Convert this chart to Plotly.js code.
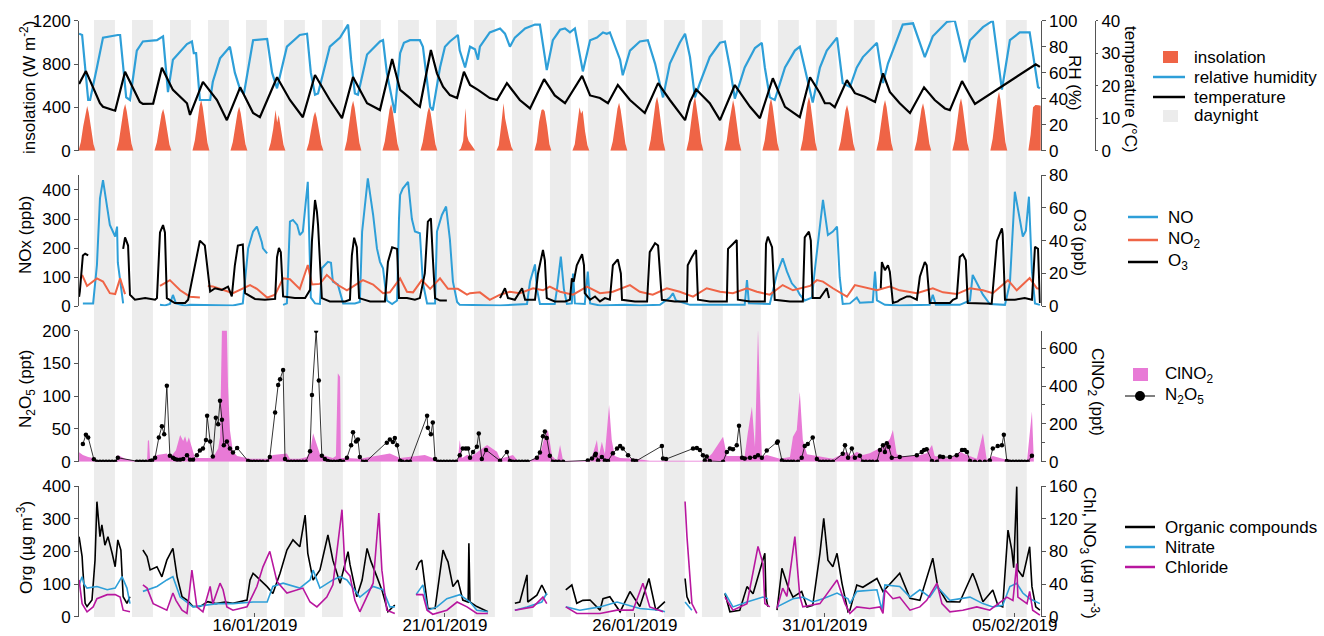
<!DOCTYPE html>
<html><head><meta charset="utf-8">
<script src="https://cdn.plot.ly/plotly-3.0.1.min.js"></script>
<style>html,body{margin:0;padding:0;background:#fff}#c{width:1324px;height:636px}</style>
</head><body><div id="c"></div>
<script>
// Times are decimal day-of-January 2019 (e.g. 32.5 = 1 Feb 12:00)
const dateTicks = ['2019-01-16','2019-01-21','2019-01-26','2019-01-31','2019-02-05'];
const xRange = ['2019-01-11 08:50','2019-02-05 16:20'];
const nightStartHour = 18.33, nightEndHour = 7.53, firstNight = 11, lastNight = 35;

const insolHours = [8.5,10,11.5,13,14,15,16.5,18,19.25];
const insolFirstDay = 11;
const insolDaily = [
[0,80,225,360,412,350,205,60,0],[0,85,235,380,431,365,215,65,0],[0,75,210,340,385,325,190,55,0],
[0,95,255,410,468,400,235,70,0],[0,80,225,355,406,345,200,60,0],[0,75,200,376,260,330,190,55,0],
[0,70,200,315,360,305,180,55,0],[0,90,255,405,462,395,230,70,0],[0,85,235,380,431,365,215,65,0],
[0,80,225,355,406,345,200,60,0],[0,20,90,391,140,90,60,35,0],[0,50,230,437,300,220,120,35,0],
[0,80,270,375,382,365,230,60,0],[0,60,240,400,340,370,180,50,0],[0,85,240,390,443,375,220,65,0],
[0,100,275,440,499,425,250,75,0],[0,95,265,440,499,410,240,70,0],[0,95,255,410,468,400,235,70,0],
[0,95,265,425,484,410,240,72,0],[0,100,275,440,499,425,250,75,0],[0,85,230,370,422,360,210,63,0],
[0,95,255,410,468,400,235,70,0],[0,85,240,385,437,370,220,65,0],[0,95,265,425,484,410,240,72,0],
[0,110,300,480,545,465,270,80,0],[0,150,400,422,422,420,415,0,0]];

const rh = [[11.37,90],[11.45,89],[11.61,39],[11.66,39],[11.84,64],[12.00,87],[12.39,89],[12.45,89],[12.61,41],[12.71,39],[12.89,77],[13.05,84],[13.42,85],[13.58,88],[13.71,45],[13.84,70],[14.21,82],[14.34,84],[14.39,75],[14.45,75],[14.55,39],[14.82,39],[14.89,53],[15.08,71],[15.34,80],[15.47,60],[15.61,47],[15.71,44],[15.95,85],[16.32,86],[16.45,60],[16.58,48],[16.84,80],[17.18,89],[17.37,90],[17.47,60],[17.58,43],[17.66,44],[17.97,80],[18.24,87],[18.45,97],[18.53,70],[18.63,44],[18.71,43],[18.95,74],[19.29,84],[19.37,85],[19.47,60],[19.68,29],[19.82,75],[19.92,83],[20.08,85],[20.34,85],[20.42,80],[20.61,34],[20.68,31],[20.87,64],[21.00,80],[21.13,84],[21.26,87],[21.34,89],[21.39,77],[21.53,64],[21.66,80],[21.79,78],[21.87,70],[21.92,80],[22.18,91],[22.45,94],[22.58,90],[22.71,80],[22.84,87],[23.11,94],[23.37,97],[23.50,97],[23.63,72],[23.68,62],[23.84,85],[24.03,93],[24.16,94],[24.29,91],[24.42,94],[24.55,75],[24.63,61],[24.82,85],[25.00,87],[25.16,91],[25.26,90],[25.34,91],[25.61,70],[25.68,58],[25.87,77],[26.13,84],[26.34,85],[26.53,67],[26.66,52],[26.74,41],[26.92,67],[27.18,83],[27.32,90],[27.45,72],[27.58,41],[27.71,52],[27.97,72],[28.24,83],[28.37,84],[28.50,64],[28.63,40],[28.89,64],[29.16,79],[29.34,83],[29.42,64],[29.55,41],[29.68,39],[29.95,64],[30.21,77],[30.34,80],[30.68,37],[30.87,64],[31.05,77],[31.32,87],[31.47,52],[31.66,49],[31.84,64],[32.00,72],[32.37,83],[32.53,52],[32.66,67],[32.89,85],[33.05,97],[33.32,98],[33.63,72],[33.84,88],[34.21,99],[34.42,100],[34.68,68],[34.82,85],[35.16,95],[35.42,100],[35.66,47],[35.87,85],[36.13,91],[36.39,91],[36.61,49],[36.66,48]];

const temperature = [[11.37,20.5],[11.55,24.5],[11.92,14.6],[12.00,13.5],[12.26,12.5],[12.32,12.3],[12.58,24.3],[12.97,15],[13.05,14.4],[13.32,14.5],[13.55,25.5],[13.84,18.7],[14.21,14.6],[14.29,11],[14.63,21.2],[15.00,15.6],[15.26,9.4],[15.61,19.5],[15.95,11.6],[16.13,10.3],[16.58,22.6],[16.92,15.6],[17.26,10.3],[17.58,23.3],[17.97,15.6],[18.29,10],[18.58,22.7],[18.95,14.6],[19.29,12.5],[19.61,28.2],[19.82,18.7],[19.95,17.5],[20.08,16.2],[20.21,14.6],[20.34,13.5],[20.63,31],[20.79,23.8],[20.95,19.7],[21.13,17.1],[21.32,16.2],[21.50,24.3],[21.66,20.2],[21.87,18.7],[22.18,16.2],[22.37,15.6],[22.63,20.8],[22.97,15.6],[23.24,13],[23.61,22],[23.89,17],[24.16,14.6],[24.61,23],[24.82,17],[25.08,16.2],[25.29,14.6],[25.55,20.2],[25.87,15.6],[26.26,11.6],[26.61,20.8],[26.92,15.6],[27.32,9.4],[27.45,15],[27.61,18.9],[27.97,14.6],[28.24,9.4],[28.63,20.2],[29.03,13.5],[29.29,10],[29.63,22.3],[29.95,13.5],[30.29,10.7],[30.34,10.3],[30.61,22.6],[30.87,17.7],[31.00,14.6],[31.13,14.6],[31.26,13.4],[31.58,21.7],[31.79,17.7],[32.05,16.6],[32.32,15],[32.53,23.8],[32.71,18.1],[32.97,14.6],[33.24,11.6],[33.61,19.5],[33.89,15.6],[34.16,13],[34.29,12.5],[34.61,21.4],[34.82,17],[34.95,14.4],[36.55,26.6],[36.66,25.8]];

const no = [[11.47,10],[11.74,10],[11.84,142],[11.92,371],[12.00,434],[12.11,337],[12.18,280],[12.32,240],[12.37,274],[12.39,150],[12.53,10],[12.55,null],[13.50,5],[13.63,3],[13.76,8],[13.84,39],[13.92,10],[14.16,2],[14.29,5],[14.55,5],[14.82,3],[15.08,5],[15.42,3],[15.68,10],[15.74,100],[15.82,199],[15.95,257],[16.05,274],[16.18,220],[16.21,199],[16.32,182],[16.35,null],[16.74,5],[16.84,10],[16.92,291],[17.00,297],[17.11,280],[17.18,245],[17.26,257],[17.34,371],[17.39,428],[17.47,30],[17.58,10],[17.71,8],[17.76,131],[17.92,153],[18.00,150],[18.05,85],[18.18,75],[18.32,10],[18.63,10],[18.76,15],[18.82,257],[18.97,440],[19.11,314],[19.21,199],[19.29,153],[19.37,131],[19.47,20],[19.61,8],[19.74,20],[19.79,300],[19.82,383],[19.89,405],[20.03,428],[20.13,300],[20.21,257],[20.34,251],[20.42,80],[20.53,10],[20.74,10],[20.79,257],[20.92,314],[21.03,343],[21.13,230],[21.21,85],[21.32,15],[21.39,5],[21.92,3],[22.45,3],[23.16,8],[23.24,85],[23.37,144],[23.42,60],[23.50,8],[23.89,8],[23.95,60],[24.05,171],[24.13,60],[24.21,8],[24.34,10],[24.37,113],[24.42,10],[24.68,8],[24.76,119],[24.82,10],[25.08,3],[25.74,5],[26.13,3],[26.66,5],[26.92,30],[27.00,45],[27.08,20],[27.45,5],[28.24,5],[28.89,5],[28.95,90],[29.00,10],[29.55,8],[29.74,113],[29.89,165],[30.00,120],[30.13,79],[30.26,60],[30.34,40],[30.47,20],[30.66,30],[30.74,130],[30.95,366],[31.08,245],[31.21,257],[31.32,274],[31.39,100],[31.47,8],[31.66,10],[31.74,20],[31.84,30],[31.92,12],[32.26,15],[32.32,119],[32.37,20],[32.58,5],[32.97,3],[33.76,5],[33.84,40],[33.92,5],[34.55,5],[34.82,20],[34.89,108],[35.00,80],[35.16,40],[35.34,8],[35.74,5],[35.87,80],[36.00,394],[36.13,300],[36.21,240],[36.29,260],[36.37,377],[36.45,120],[36.53,10],[36.66,5]];

const no2 = [[11.45,108],[11.58,70],[11.84,96],[12.00,85],[12.18,45],[12.32,42],[12.45,96],[12.58,42],[12.6,null],[13.50,70],[13.76,90],[14.03,55],[14.29,33],[14.55,30],[14.6,null],[14.76,70],[14.89,68],[15.42,45],[15.87,73],[16.05,60],[16.32,30],[16.53,40],[16.74,96],[16.92,93],[17.18,60],[17.39,142],[17.50,75],[17.71,77],[17.89,108],[18.16,75],[18.42,55],[18.84,90],[19.11,75],[19.37,45],[19.55,48],[19.82,96],[20.00,50],[20.16,48],[20.39,90],[20.61,60],[20.87,96],[21.08,60],[21.34,60],[21.58,40],[21.66,45],[21.92,48],[22.18,22],[22.45,40],[22.71,50],[22.97,45],[23.32,62],[23.58,55],[23.76,68],[24.03,50],[24.37,40],[24.74,68],[25.08,45],[25.42,50],[25.87,73],[26.13,50],[26.47,40],[26.84,62],[27.18,50],[27.53,33],[27.89,62],[28.24,50],[28.58,45],[28.95,62],[29.21,50],[29.55,40],[29.89,73],[30.16,55],[30.61,70],[30.79,90],[30.95,85],[31.21,62],[31.58,33],[31.79,73],[32.11,62],[32.37,55],[32.71,68],[32.97,55],[33.42,45],[33.84,62],[34.11,48],[34.47,42],[34.82,62],[35.16,55],[35.42,45],[35.82,90],[36.05,55],[36.39,97],[36.58,62],[36.66,60]];

const o3 = [[11.37,5.8],[11.39,9],[11.47,31],[11.53,32],[11.61,31],[11.63,null],[12.53,35],[12.58,42],[12.66,37],[12.71,7],[12.84,4],[13.11,5],[13.37,4],[13.42,5],[13.50,45],[13.58,49.5],[13.63,45],[13.68,5],[13.89,2],[14.16,2],[14.24,4],[14.47,31],[14.55,40],[14.68,37],[14.82,9],[14.95,11],[15.13,10],[15.29,12],[15.39,6],[15.47,25],[15.55,37],[15.68,37.7],[15.74,8],[16.00,4.5],[16.26,4],[16.53,4.5],[16.58,30],[16.63,35.5],[16.68,33],[16.74,6],[17.05,5],[17.32,5],[17.45,10],[17.50,40],[17.58,64.8],[17.63,57.7],[17.66,49.5],[17.76,5],[17.97,3],[18.37,3],[18.50,4],[18.55,31],[18.61,41.8],[18.68,36],[18.74,5],[19.03,3],[19.42,3],[19.50,27],[19.61,36],[19.74,35],[19.79,5],[20.00,5],[20.21,4],[20.34,5],[20.47,20],[20.55,51.6],[20.63,53.6],[20.68,30],[20.74,5],[20.87,3.5],[21.05,3.5],[21.1,null],[22.45,5],[22.58,11],[22.66,5],[22.84,4],[23.03,11],[23.11,4],[23.37,4],[23.45,20],[23.58,34.3],[23.63,28],[23.68,5],[23.89,3],[24.16,3],[24.29,4],[24.34,17],[24.39,15],[24.47,25],[24.61,31.7],[24.66,25],[24.68,8],[24.82,4],[24.95,6],[25.08,3],[25.21,5],[25.34,4],[25.42,25],[25.55,28.6],[25.63,20],[25.66,4],[26.00,3],[26.32,3],[26.39,33],[26.53,38.4],[26.61,37],[26.71,4],[27.05,3],[27.37,3],[27.39,25],[27.50,30],[27.61,34.3],[27.66,4],[27.97,3],[28.42,3],[28.45,35],[28.58,38],[28.68,40.4],[28.71,4],[29.03,3],[29.42,3],[29.45,38],[29.50,42.4],[29.61,36],[29.68,4],[30.08,3],[30.42,3],[30.47,42],[30.58,45.5],[30.63,40],[30.68,5],[30.87,5],[31.05,11],[31.11,5],[31.2,null],[32.47,11],[32.50,27],[32.58,22],[32.66,25],[32.71,21],[32.79,2],[32.92,3],[32.97,4],[33.16,6],[33.24,6],[33.42,4],[33.50,18],[33.63,27],[33.68,25],[33.76,2],[34.29,2],[34.37,4],[34.47,5],[34.55,30],[34.63,31.7],[34.71,28],[34.76,2],[35.39,1.5],[35.53,40],[35.66,47.5],[35.68,44],[35.74,4],[36.00,4],[36.26,5],[36.45,4],[36.53,36.3],[36.61,35],[36.66,2]];

const n2o5 = [[11.47,27],[11.55,41],[11.61,37],[11.76,3.6],[11.84,0],[11.92,0],[12.00,0],[12.08,0],[12.16,0],[12.24,0],[12.32,0],[12.39,6],[12.89,0],[12.97,0],[13.05,0],[13.13,0],[13.24,1],[13.29,2],[13.37,6],[13.47,37],[13.55,54],[13.61,42],[13.68,116],[13.76,9],[13.84,6],[13.89,4],[13.95,3],[14.03,3],[14.11,4],[14.21,10],[14.29,3],[14.37,3],[14.47,10],[14.55,17],[14.63,20],[14.71,33],[14.74,70],[14.82,31],[14.89,8],[14.97,67],[15.03,57],[15.08,93],[15.13,64],[15.18,25],[15.26,31],[15.34,20],[15.42,14],[15.53,21],[15.82,1],[15.89,0],[15.97,0],[16.05,0],[16.13,0],[16.21,0],[16.32,0],[16.39,7],[16.53,75],[16.61,117],[16.66,126],[16.74,140],[16.79,4],[16.87,0],[16.95,0],[17.03,0],[17.11,0],[17.18,0],[17.26,0],[17.34,0],[17.45,16],[17.50,102],[17.61,200],[17.68,124],[17.76,9],[17.84,4],[17.92,1],[18.00,0],[18.08,0],[18.16,0],[18.24,1],[18.32,0],[18.42,6],[18.53,25],[18.58,45],[18.66,31],[18.71,34],[18.76,7],[18.84,0],[18.92,0],[19.47,29],[19.55,34],[19.63,30],[19.68,36],[19.74,25],[19.82,1.5],[19.89,0],[20.00,0],[20.08,0],[20.53,70],[20.55,52],[20.63,42],[20.68,60],[20.74,4],[20.82,0],[20.89,0],[20.97,0],[21.05,0],[21.13,0],[21.21,0],[21.29,0],[21.39,10],[21.47,20],[21.55,20],[21.61,20],[21.66,6],[21.74,15],[21.84,23],[21.89,43],[21.97,4],[22.08,18],[22.45,1.5],[22.63,15],[22.71,1],[22.79,0],[22.87,0],[22.95,0],[23.03,0],[23.11,0],[23.18,0],[23.42,6],[23.50,14],[23.58,39],[23.63,46],[23.68,36],[23.76,9],[23.84,0],[23.92,0],[24.00,0],[24.11,0],[24.76,2],[24.87,5],[24.95,10],[24.97,12],[25.03,2],[25.13,7],[25.21,2],[25.29,1],[25.42,13],[25.53,20],[25.61,24],[25.68,20],[25.82,10],[25.95,2],[26.03,1],[26.71,24],[26.74,5],[26.82,4],[27.53,20],[27.63,21],[27.71,18],[27.79,10],[27.84,2],[27.89,8],[27.97,1],[28.32,0],[28.42,15],[28.50,20],[28.58,19],[28.68,25],[28.74,55],[28.82,6],[28.89,5],[29.03,6],[29.16,7],[29.24,10],[29.34,6],[29.47,17],[29.74,29],[29.76,31],[29.87,2],[29.95,0],[30.03,0],[30.11,0],[30.18,0],[30.29,0],[30.39,6],[30.47,24],[30.55,27],[30.68,37],[30.79,4],[30.87,0],[30.95,0],[31.03,0],[31.11,0],[31.21,0],[31.47,12],[31.53,25],[31.61,6],[31.71,20],[31.79,6],[31.92,9],[32.00,0],[32.08,0],[32.18,0],[32.26,0],[32.37,0],[32.45,18],[32.53,25],[32.58,15],[32.63,28],[32.68,23],[32.76,6],[32.97,7],[33.42,10],[33.55,15],[33.61,18],[33.68,19],[33.82,1],[33.95,0],[34.03,8],[34.11,7],[34.29,7],[34.47,10],[34.61,18],[34.68,18],[34.74,15],[34.82,1],[34.95,0],[35.08,0],[35.21,0],[35.34,2],[35.42,20],[35.55,24],[35.66,25],[35.71,41],[35.79,1],[35.87,0],[35.95,0],[36.03,0],[36.11,0],[36.18,0],[36.26,0],[36.34,0],[36.45,9]];

const clno2 = [[11.37,50],[11.47,35],[11.61,25],[11.74,20],[11.84,5],[12.37,5],[12.39,35],[12.53,20],[12.58,15],[12.84,5],[13.16,5],[13.18,110],[13.21,115],[13.24,10],[13.32,10],[13.42,35],[13.68,44],[13.76,20],[13.92,60],[14.03,141],[14.11,110],[14.16,135],[14.21,100],[14.26,130],[14.34,80],[14.42,20],[14.63,20],[14.89,20],[15.03,70],[15.08,130],[15.13,700],[15.26,700],[15.29,400],[15.34,168],[15.42,53],[15.53,30],[15.87,15],[16.32,15],[16.47,35],[16.66,40],[16.84,44],[16.92,15],[17.18,15],[17.37,25],[17.45,53],[17.53,150],[17.63,88],[17.71,40],[18.05,20],[18.13,30],[18.18,468],[18.24,450],[18.26,20],[18.42,20],[18.76,15],[19.29,35],[19.55,44],[19.82,20],[20.16,27],[20.47,35],[20.68,20],[20.79,5],[21.34,10],[21.39,115],[21.45,20],[21.58,35],[21.71,30],[21.92,62],[22.11,88],[22.37,53],[22.45,15],[22.79,35],[22.92,5],[23.16,0],[23.24,5],[23.50,35],[23.61,124],[23.71,168],[23.82,30],[23.95,5],[24.03,88],[24.11,5],[24.55,3],[24.82,5],[24.89,40],[25.00,115],[25.05,30],[25.13,106],[25.21,40],[25.32,300],[25.39,115],[25.47,30],[25.61,20],[26.00,15],[26.39,5],[27.84,5],[28.03,44],[28.32,132],[28.42,30],[28.89,30],[28.97,150],[29.08,291],[29.16,79],[29.24,700],[29.34,27],[29.47,35],[29.82,15],[30.08,25],[30.16,132],[30.26,168],[30.34,370],[30.42,115],[30.53,40],[30.79,30],[31.21,15],[31.58,53],[31.68,30],[31.84,53],[32.00,35],[32.18,45],[32.37,62],[32.53,80],[32.71,120],[32.79,168],[32.89,40],[33.05,30],[33.42,30],[33.68,45],[33.82,88],[33.89,30],[34.03,25],[34.29,15],[34.55,53],[34.74,35],[35.00,15],[35.16,150],[35.26,10],[35.42,30],[35.68,15],[36.05,5],[36.32,5],[36.45,265],[36.50,5]];

const org = [[11.37,245],[11.45,184],[11.47,143],[11.53,41],[11.58,31],[11.71,51],[11.79,173],[11.84,352],[11.92,245],[11.97,281],[12.05,219],[12.13,245],[12.24,194],[12.32,153],[12.39,235],[12.47,204],[12.53,61],[12.63,41],[12.71,61],[12.75,null],[13.05,204],[13.16,184],[13.24,143],[13.42,153],[13.55,122],[13.68,173],[13.84,209],[13.95,122],[14.08,61],[14.21,51],[14.37,31],[14.55,31],[14.76,46],[14.97,40],[15.21,45],[15.42,41],[15.79,51],[15.87,112],[15.95,133],[16.13,112],[16.32,92],[16.47,71],[16.66,133],[16.84,204],[17.00,235],[17.18,214],[17.32,311],[17.39,194],[17.53,112],[17.71,143],[17.92,250],[18.05,173],[18.24,102],[18.45,199],[18.50,160],[18.68,61],[18.82,112],[18.95,209],[19.05,170],[19.21,122],[19.34,82],[19.50,15],[19.68,36],[19.75,null],[20.24,143],[20.32,165],[20.39,173],[20.47,92],[20.55,26],[20.74,25],[20.87,143],[20.95,204],[21.03,180],[21.08,168],[21.21,92],[21.34,112],[21.47,51],[21.61,45],[21.63,225],[21.66,45],[21.84,31],[22.05,20],[22.13,15],[22.2,null],[22.84,41],[22.97,45],[23.16,128],[23.18,45],[23.42,66],[23.55,97],[23.68,66],[23.7,null],[24.18,82],[24.34,97],[24.47,41],[24.63,50],[24.82,51],[25.08,20],[25.16,55],[25.34,61],[25.61,15],[25.87,77],[26.13,31],[26.37,117],[26.55,20],[26.79,46],[26.85,null],[27.32,117],[27.37,61],[27.45,40],[27.5,null],[28.37,71],[28.50,15],[28.76,20],[28.95,92],[29.11,70],[29.42,194],[29.45,60],[29.50,31],[29.55,null],[29.74,20],[29.87,148],[30.03,92],[30.16,60],[30.39,77],[30.53,30],[30.68,35],[30.87,194],[30.97,301],[31.08,173],[31.21,153],[31.32,194],[31.45,102],[31.61,15],[31.66,20],[31.84,97],[32.00,90],[32.37,117],[32.53,77],[32.79,112],[32.97,133],[33.24,56],[33.50,50],[33.84,179],[33.97,92],[34.21,46],[34.55,45],[34.89,133],[34.97,110],[35.16,46],[35.42,82],[35.55,36],[35.68,30],[35.82,265],[35.92,204],[35.97,150],[36.05,398],[36.08,143],[36.21,122],[36.39,214],[36.45,92],[36.55,30],[36.66,20]];

const nitrate = [[11.37,39],[11.45,49],[11.50,40],[11.58,35],[11.84,37],[12.11,33],[12.32,35],[12.50,49],[12.63,35],[12.71,16],[12.75,null],[13.05,31],[13.42,37],[13.68,45],[13.84,49],[14.03,24],[14.37,12],[15.00,16],[15.42,16],[15.95,18],[16.32,18],[16.47,37],[16.74,41],[17.18,35],[17.45,45],[17.53,57],[17.71,35],[18.05,45],[18.24,49],[18.42,45],[18.76,24],[19.11,37],[19.37,33],[19.55,12],[19.68,12],[19.75,null],[20.24,27],[20.42,39],[20.55,8],[20.79,12],[21.05,22],[21.39,27],[21.66,18],[21.84,8],[22.13,6],[22.2,null],[22.84,8],[23.16,12],[23.55,18],[23.68,29],[23.7,null],[24.18,12],[24.55,8],[25.08,12],[25.53,18],[26.13,10],[26.66,8],[26.79,6],[26.85,null],[27.32,18],[27.50,8],[27.55,null],[28.37,29],[28.58,12],[28.95,18],[29.37,24],[29.50,22],[29.55,null],[29.74,12],[30.16,22],[30.42,24],[30.68,18],[30.95,22],[31.32,29],[31.61,22],[31.66,16],[31.84,31],[32.37,33],[32.50,8],[32.58,39],[32.97,37],[33.24,24],[33.50,33],[33.76,24],[33.95,37],[34.29,20],[34.82,24],[35.16,16],[35.42,12],[35.68,14],[35.87,37],[36.05,41],[36.21,29],[36.39,22],[36.66,16]];

const chloride = [[11.37,45],[11.45,16],[11.58,6],[11.74,12],[11.84,22],[12.11,27],[12.32,27],[12.45,24],[12.53,8],[12.71,6],[12.75,null],[13.05,39],[13.16,35],[13.32,16],[13.50,12],[13.68,8],[13.84,29],[13.92,20],[14.08,8],[14.21,4],[14.34,57],[14.47,12],[14.63,6],[14.82,37],[14.89,16],[15.08,41],[15.16,33],[15.26,12],[15.42,8],[15.79,12],[16.05,37],[16.21,61],[16.39,80],[16.58,43],[16.84,29],[17.11,33],[17.26,35],[17.45,18],[17.63,12],[17.89,24],[18.05,39],[18.29,131],[18.37,57],[18.50,50],[18.63,20],[18.76,6],[18.95,24],[19.11,41],[19.26,127],[19.34,57],[19.47,8],[19.68,4],[19.75,null],[20.24,27],[20.42,27],[20.53,8],[20.68,3],[21.05,8],[21.32,18],[21.58,12],[21.84,4],[22.13,4],[22.2,null],[22.84,8],[23.32,12],[23.58,24],[23.68,16],[23.7,null],[24.18,12],[24.47,4],[25.08,4],[25.53,8],[25.95,8],[26.21,41],[26.39,12],[26.74,6],[26.85,null],[27.32,141],[27.37,98],[27.50,16],[27.63,4],[27.7,null],[28.37,24],[28.58,8],[28.95,16],[29.24,86],[29.37,65],[29.42,16],[29.55,12],[29.6,null],[29.74,10],[29.89,35],[30.00,25],[30.21,98],[30.34,25],[30.42,12],[30.87,16],[31.13,33],[31.32,45],[31.53,16],[31.66,4],[31.84,12],[32.18,10],[32.45,12],[32.53,4],[32.58,33],[32.79,22],[32.97,24],[33.24,8],[33.50,12],[33.68,20],[33.95,41],[34.08,16],[34.29,6],[34.63,8],[35.00,12],[35.34,8],[35.79,24],[35.95,20],[36.05,65],[36.08,24],[36.32,16],[36.39,31],[36.47,8],[36.66,2]];

// legend labels (drawn as real text)
const legendPanel1 = ['insolation','relative humidity','temperature','daynight'];
const legendPanel2 = ['NO','NO<sub>2</sub>','O<sub>3</sub>'];
const legendPanel3 = ['ClNO<sub>2</sub>','N<sub>2</sub>O<sub>5</sub>'];
const legendPanel4 = ['Organic compounds','Nitrate','Chloride'];

// ---------- helpers ----------
function T(d){ return new Date(Date.UTC(2019,0,1) + (d-1)*86400000).toISOString().slice(0,19).replace('T',' '); }
const X = a => a.map(p => T(p[0]));
const Y = a => a.map(p => p[1]);

const insX = [], insY = [];
insolDaily.forEach((row, i) => row.forEach((v, j) => { insX.push(T(insolFirstDay + i + insolHours[j]/24)); insY.push(v); }));

const FONT = 'Arial, "Liberation Sans", sans-serif';
const BLUE = '#2E9FD8', ORANGE = '#EF6446', PINK = '#E87AD6', PURPLE = '#B8179F', GREY = '#ECECEC';

const traces = [
 {x: insX, y: insY, xaxis:'x2', yaxis:'y', type:'scatter', mode:'lines', line:{width:0, color:ORANGE}, fill:'tozeroy', fillcolor:ORANGE, name:'insolation'},
 {x: X(rh), y: Y(rh), xaxis:'x2', yaxis:'y2', type:'scatter', mode:'lines', line:{color:BLUE, width:2.2}, name:'relative humidity'},
 {x: X(temperature), y: Y(temperature), xaxis:'x2', yaxis:'y3', type:'scatter', mode:'lines', line:{color:'#000', width:2.2}, name:'temperature'},

 {x: X(no), y: Y(no), xaxis:'x3', yaxis:'y4', type:'scatter', mode:'lines', line:{color:BLUE, width:2}, name:'NO'},
 {x: X(no2), y: Y(no2), xaxis:'x3', yaxis:'y4', type:'scatter', mode:'lines', line:{color:ORANGE, width:2}, name:'NO2'},
 {x: X(o3), y: Y(o3), xaxis:'x3', yaxis:'y5', type:'scatter', mode:'lines', line:{color:'#000', width:2}, name:'O3'},

 {x: X(clno2), y: Y(clno2), xaxis:'x4', yaxis:'y6', type:'scatter', mode:'lines', line:{width:0, color:PINK}, fill:'tozeroy', fillcolor:PINK, name:'ClNO2'},
 {x: X(n2o5), y: Y(n2o5), xaxis:'x4', yaxis:'y7', type:'scatter', mode:'lines+markers', line:{color:'#000', width:0.8}, marker:{color:'#000', size:4.5}, name:'N2O5'},

 {x: X(org), y: Y(org), xaxis:'x', yaxis:'y8', type:'scatter', mode:'lines', line:{color:'#000', width:1.6}, name:'Organic compounds'},
 {x: X(nitrate), y: Y(nitrate), xaxis:'x', yaxis:'y9', type:'scatter', mode:'lines', line:{color:BLUE, width:1.6}, name:'Nitrate'},
 {x: X(chloride), y: Y(chloride), xaxis:'x', yaxis:'y9', type:'scatter', mode:'lines', line:{color:PURPLE, width:1.6}, name:'Chloride'}
];

const W = 1324, H = 636;
const px = v => v / W, py = v => 1 - v / H;
const XD = [px(79), px(1040.7)];
const D1 = [py(150.7), py(20.7)], D2 = [py(306.3), py(175)], D3 = [py(461.7), py(330.7)], D4 = [py(616.7), py(486)];

const yBase = {showgrid:false, zeroline:false, showline:true, linecolor:'#555', linewidth:1, ticks:'outside', ticklen:4, tickcolor:'#555', tickfont:{size:17, color:'#000', family:FONT}, fixedrange:true};
const xBase = {type:'date', domain:XD, range:xRange, showgrid:false, zeroline:false, showline:false, fixedrange:true};

const shapes = [];
for (let d = firstNight; d <= lastNight; d++) {
  shapes.push({type:'rect', xref:'x', yref:'paper', x0:T(d + nightStartHour/24), x1:T(d + 1 + nightEndHour/24), y0:py(617), y1:py(20), fillcolor:GREY, line:{width:0}, layer:'below'});
}

const ann = (text, x, y, angle) => ({text, x:px(x), y:py(y), xref:'paper', yref:'paper', showarrow:false, textangle:angle, xanchor:'center', yanchor:'middle', font:{size:17, color:'#000', family:FONT}});
const annotations = [
  ann('insolation (W m<sup>-2</sup>)', 28, 88, -90),
  ann('NOx (ppb)', 26, 235, -90),
  ann('N<sub>2</sub>O<sub>5</sub> (ppt)', 27, 389, -90),
  ann('Org (µg m<sup>-3</sup>)', 25, 548, -90),
  ann('RH (%)', 1075, 83, 90),
  ann('temperature (°C)', 1131, 89, 90),
  ann('O3 (ppb)', 1080, 242, 90),
  ann('ClNO<sub>2</sub> (ppt)', 1096, 392, 90),
  ann('Chl, NO<sub>3</sub> (µg m<sup>-3</sup>)', 1090, 553, 90)
];

// ---- legends drawn as shapes + text ----
const legText = (t, x, y) => ({text:t, x:px(x), y:py(y), xref:'paper', yref:'paper', showarrow:false, xanchor:'left', yanchor:'middle', font:{size:17, color:'#000', family:FONT}});
const legLine = (x0, x1, y, color, w) => ({type:'line', xref:'paper', yref:'paper', x0:px(x0), x1:px(x1), y0:py(y), y1:py(y), line:{color, width:w}});
const legBox = (x0, x1, y0, y1, color) => ({type:'rect', xref:'paper', yref:'paper', x0:px(x0), x1:px(x1), y0:py(y1), y1:py(y0), fillcolor:color, line:{width:0}});
const L1y = [57, 77, 97, 116];
annotations.push(...legendPanel1.map((t, i) => legText(t, 1192, L1y[i])));
shapes.push(legBox(1163, 1178, 51, 63, ORANGE), legLine(1153, 1185, 77, BLUE, 2.5), legLine(1153, 1185, 97, '#000', 2.5), legBox(1163, 1178, 110, 122, GREY));
const L2y = [217, 240, 262];
annotations.push(...legendPanel2.map((t, i) => legText(t, 1166, L2y[i])));
shapes.push(legLine(1128, 1158, 217, BLUE, 2.5), legLine(1128, 1158, 240, ORANGE, 2.5), legLine(1128, 1158, 262, '#000', 2.5));
const L3y = [375, 396];
annotations.push(...legendPanel3.map((t, i) => legText(t, 1163, L3y[i])));
shapes.push(legBox(1133, 1148, 368, 381, PINK), legLine(1125, 1155, 396, '#000', 1),
  {type:'circle', xref:'paper', yref:'paper', x0:px(1135), x1:px(1145), y0:py(401), y1:py(391), fillcolor:'#000', line:{color:'#000', width:0}});
const L4y = [527, 547, 567];
annotations.push(...legendPanel4.map((t, i) => legText(t, 1163, L4y[i])));
shapes.push(legLine(1125, 1155, 527, '#000', 2.5), legLine(1125, 1155, 547, BLUE, 2.5), legLine(1125, 1155, 567, PURPLE, 2.5));

const layout = {
  width:W, height:H, margin:{l:0, r:0, t:0, b:0}, paper_bgcolor:'#fff', plot_bgcolor:'rgba(0,0,0,0)',
  font:{family:FONT, size:17, color:'#000'},
  showlegend:false,
  xaxis: Object.assign({}, xBase, {anchor:'y8', tickvals:dateTicks, tickformat:'%d/%m/%Y', ticks:'inside', ticklen:4, tickcolor:'#555', ticklabelstandoff:-4, tickfont:{size:17, color:'#000', family:FONT}}),
  xaxis2: Object.assign({}, xBase, {anchor:'y', showticklabels:false, ticks:''}),
  xaxis3: Object.assign({}, xBase, {anchor:'y4', showticklabels:false, ticks:''}),
  xaxis4: Object.assign({}, xBase, {anchor:'y6', showticklabels:false, ticks:''}),
  yaxis: Object.assign({}, yBase, {domain:D1, anchor:'x2', range:[0,1200], tickvals:[0,400,800,1200]}),
  yaxis2: Object.assign({}, yBase, {overlaying:'y', side:'right', anchor:'x2', range:[0,100], dtick:20}),
  yaxis3: Object.assign({}, yBase, {overlaying:'y', side:'right', anchor:'free', position:px(1095), ticklen:2, range:[0,40], dtick:10}),
  yaxis4: Object.assign({}, yBase, {domain:D2, anchor:'x3', range:[0,451.5], tickvals:[0,100,200,300,400]}),
  yaxis5: Object.assign({}, yBase, {overlaying:'y4', side:'right', anchor:'x3', range:[0,80], dtick:20}),
  yaxis6: Object.assign({}, yBase, {domain:D3, anchor:'x4', side:'right', range:[0,693], tickvals:[0,200,400,600], minor:{tickvals:[100,300,500], ticklen:3, tickcolor:'#555', ticks:'outside'}}),
  yaxis7: Object.assign({}, yBase, {overlaying:'y6', side:'left', anchor:'x4', range:[0,200], dtick:50}),
  yaxis8: Object.assign({}, yBase, {domain:D4, anchor:'x', range:[0,400], dtick:100}),
  yaxis9: Object.assign({}, yBase, {overlaying:'y8', side:'right', anchor:'x', range:[0,160], dtick:40}),
  shapes, annotations
};

Plotly.newPlot('c', traces, layout, {staticPlot:true, displayModeBar:false});
</script>
</body></html>
